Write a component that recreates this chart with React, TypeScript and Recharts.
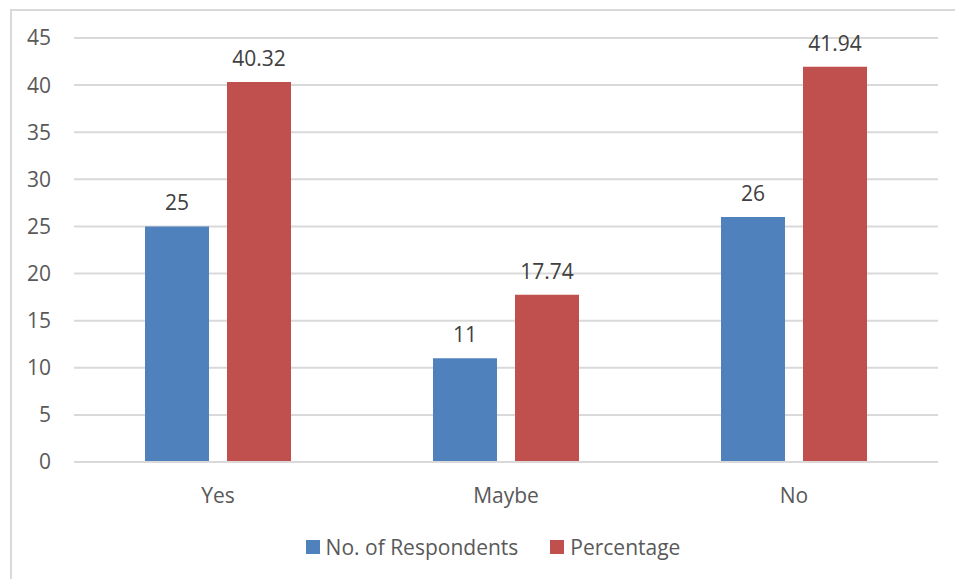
import {
  BarChart,
  Bar,
  XAxis,
  YAxis,
  CartesianGrid,
  Legend,
  LabelList,
} from 'recharts'

const categories = ['Yes', 'Maybe', 'No']
const respondents = [25, 11, 26]
const percentage = [40.32, 17.74, 41.94]
const yTicks = [0, 5, 10, 15, 20, 25, 30, 35, 40, 45]

const seriesNames = ['No. of Respondents', 'Percentage']
const colors = ['#4f81bd', '#c0504d']

const data = categories.map((name, i) => ({
  name,
  respondents: respondents[i],
  percentage: percentage[i],
}))

const font = '"Open Sans", "Noto Sans", sans-serif'

function LegendContent() {
  return (
    <div
      style={{
        display: 'flex',
        justifyContent: 'center',
        alignItems: 'center',
        fontFamily: font,
        fontSize: 21,
        color: '#595959',
        paddingLeft: 48,
      }}
    >
      {seriesNames.map((s, i) => (
        <div
          key={s}
          style={{
            display: 'flex',
            alignItems: 'center',
            marginRight: i === 0 ? 32 : 0,
          }}
        >
          <span
            style={{
              width: 14,
              height: 14,
              background: colors[i],
              display: 'inline-block',
              marginRight: 6,
            }}
          />
          <span>{s}</span>
        </div>
      ))}
    </div>
  )
}

export default function App() {
  return (
    <div
      style={{
        position: 'absolute',
        left: 0,
        top: 0,
        width: 955,
        height: 579,
        background: '#fff',
      }}
    >
      <div
        style={{
          position: 'absolute',
          left: 10,
          top: 9,
          right: 0,
          bottom: 0,
          borderLeft: '2px solid #d9d9d9',
          borderTop: '2px solid #d9d9d9',
        }}
      />
      <div style={{ position: 'absolute', left: 0, top: 0 }}>
        <BarChart
          width={955}
          height={579}
          data={data}
          margin={{ top: 38, right: 17, left: 0, bottom: 18 }}
          barGap={18}
          barCategoryGap={71}
        >
          <CartesianGrid
            vertical={false}
            stroke="#d9d9d9"
            strokeWidth={2}
          />
          <XAxis
            dataKey="name"
            axisLine={{ stroke: '#d9d9d9', strokeWidth: 2 }}
            tickLine={false}
            tickSize={0}
            tickMargin={26}
            height={71}
            tick={{ fill: '#595959', fontSize: 21, fontFamily: font }}
          />
          <YAxis
            width={74}
            domain={[0, 45]}
            ticks={yTicks}
            axisLine={false}
            tickLine={false}
            tickSize={0}
            tickMargin={23}
            tick={{ fill: '#595959', fontSize: 21, fontFamily: font }}
          />
          <Legend verticalAlign="bottom" content={<LegendContent />} />
          <Bar
            dataKey="respondents"
            fill={colors[0]}
            isAnimationActive={false}
          >
            <LabelList
              dataKey="respondents"
              position="top"
              offset={16}
              fill="#404040"
              fontSize={21}
              fontFamily={font}
            />
          </Bar>
          <Bar
            dataKey="percentage"
            fill={colors[1]}
            isAnimationActive={false}
          >
            <LabelList
              dataKey="percentage"
              position="top"
              offset={16}
              fill="#404040"
              fontSize={21}
              fontFamily={font}
            />
          </Bar>
        </BarChart>
      </div>
    </div>
  )
}
